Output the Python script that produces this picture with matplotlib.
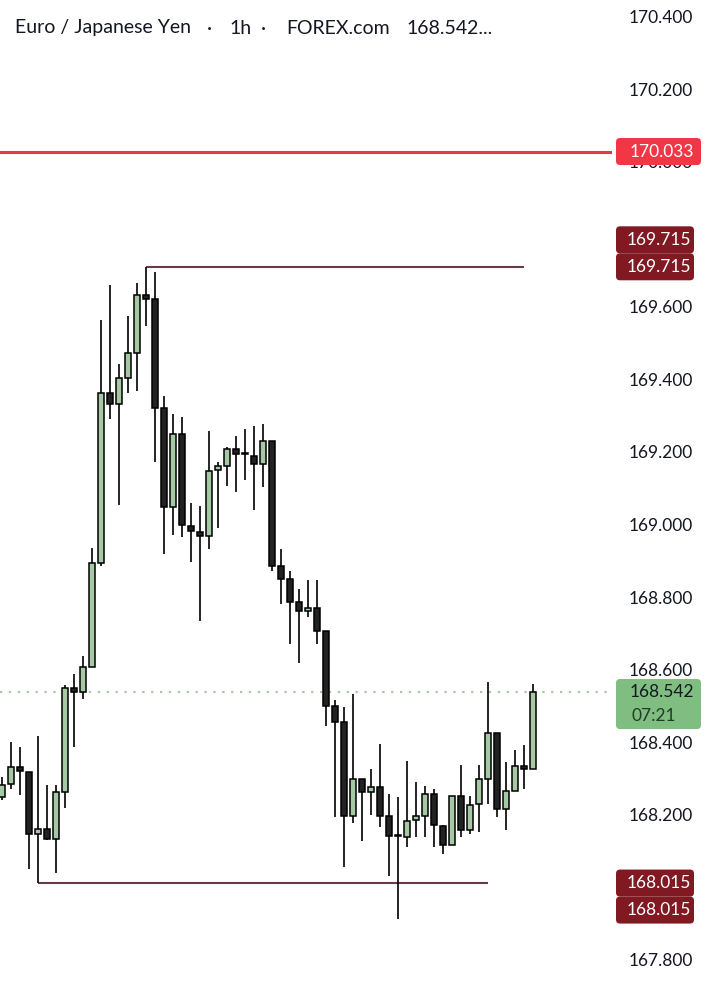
import matplotlib
matplotlib.use("Agg")
import matplotlib.pyplot as plt
from matplotlib.patches import FancyBboxPatch
import numpy as np

plt.rcParams["font.family"] = ["Lato", "DejaVu Sans"]

# hourly EUR/JPY candles
opens = [168.252, 168.288, 168.336, 168.322, 168.150, 168.163, 168.137, 168.265, 168.554, 168.543,
         168.612, 168.898, 169.366, 169.337, 169.407, 169.476, 169.637, 169.625, 169.325, 169.052,
         169.253, 169.001, 168.984, 168.972, 169.154, 169.166, 169.212, 169.199, 169.194, 169.170,
         169.235, 168.890, 168.853, 168.790, 168.766, 168.775, 168.711, 168.503, 168.458, 168.200,
         168.303, 168.265, 168.281, 168.200, 168.145, 168.143, 168.189, 168.201, 168.261, 168.173,
         168.120, 168.256, 168.161, 168.232, 168.301, 168.430, 168.219, 168.270, 168.339, 168.330]
highs = [168.308, 168.404, 168.390, 168.322, 168.421, 168.286, 168.286, 168.561, 168.592, 168.641,
         168.938, 169.568, 169.665, 169.447, 169.579, 169.670, 169.715, 169.702, 169.359, 169.309,
         169.300, 169.063, 169.056, 169.262, 169.177, 169.219, 169.248, 169.268, 169.276, 169.281,
         169.235, 168.937, 168.876, 168.826, 168.851, 168.851, 168.711, 168.520, 168.502, 168.537,
         168.303, 168.329, 168.399, 168.261, 168.252, 168.352, 168.293, 168.284, 168.274, 168.175,
         168.256, 168.341, 168.255, 168.341, 168.569, 168.430, 168.348, 168.382, 168.396, 168.564]
lows = [168.244, 168.274, 168.258, 168.053, 168.015, 168.134, 168.043, 168.222, 168.391, 168.522,
        168.612, 168.890, 169.294, 169.058, 169.366, 169.373, 169.553, 169.177, 168.923, 168.975,
        168.970, 168.902, 168.739, 168.936, 168.995, 169.110, 169.095, 169.127, 169.044, 169.108,
        168.877, 168.785, 168.674, 168.623, 168.750, 168.674, 168.449, 168.198, 168.060, 168.182,
        168.132, 168.203, 168.169, 168.035, 167.915, 168.114, 168.143, 168.143, 168.114, 168.094,
        168.120, 168.143, 168.150, 168.157, 168.233, 168.198, 168.161, 168.269, 168.274, 168.330]
closes = [168.286, 168.336, 168.325, 168.150, 168.163, 168.137, 168.265, 168.554, 168.543, 168.612,
          168.898, 169.366, 169.337, 169.407, 169.476, 169.637, 169.625, 169.325, 169.052, 169.253,
          169.003, 168.986, 168.972, 169.153, 169.166, 169.212, 169.199, 169.201, 169.170, 169.235,
          168.890, 168.853, 168.790, 168.766, 168.775, 168.711, 168.503, 168.458, 168.200, 168.303,
          168.265, 168.281, 168.200, 168.145, 168.146, 168.187, 168.201, 168.261, 168.175, 168.120,
          168.256, 168.161, 168.230, 168.301, 168.430, 168.219, 168.270, 168.339, 168.330, 168.542]

# 168.000 and 169.800 sit fully under the price tags, so they are left out
tick_values = [167.8, 168.2, 168.4, 168.6, 168.8, 169.0, 169.2, 169.4, 169.6, 170.0, 170.2, 170.4]
last_price = 168.542
countdown = "07:21"
alert_price = 170.033
swing_high, swing_high_span = 169.715, (16, 58)
swing_low, swing_low_span = 168.015, (4, 54)
title_parts = ["Euro / Japanese Yen", "\u00b7", "1h", "\u00b7", "FOREX.com", "168.542..."]
title_x = [15, 207, 229, 261, 286, 406]

UP = "#a5c8a5"
DOWN = "#222222"
W, H = 716, 999

fig = plt.figure(figsize=(W / 100, H / 100), dpi=100)
ax = fig.add_axes([0, 0, 612 / W, 1])
ax.set_axis_off()
ax.set_xlim(-0.19, 67.8)
ax.set_ylim(167.6952, 170.451)

o = np.array(opens)
h = np.array(highs)
l = np.array(lows)
c = np.array(closes)
x = np.arange(len(o))
up = c >= o

ax.vlines(x, l, h, color="black", lw=1.2, zorder=2)
bottom = np.minimum(o, c)
height = np.maximum(np.abs(c - o), 0.002)
ax.bar(x, height, bottom=bottom, width=0.7,
       color=np.where(up, UP, DOWN), edgecolor="black", linewidth=1.1, zorder=3)

ax.axhline(last_price, color=UP, lw=1.6, ls=(0, (1, 3)), zorder=1)
ax.axhline(alert_price, color="#e03a4a", lw=2.2, zorder=4)
ax.hlines([swing_high, swing_low], [swing_high_span[0], swing_low_span[0]],
          [swing_high_span[1], swing_low_span[1]], color="#6d3a43", lw=1.5, zorder=1)

# overlay in pixel units for the price scale
ov = fig.add_axes([0, 0, 1, 1])
ov.set_axis_off()
ov.set_xlim(0, W)
ov.set_ylim(0, H)


def ypix(p):
    return ax.transData.transform((0, p))[1]


for v in tick_values:
    ov.text(661, ypix(v), f"{v:.3f}", ha="center", va="center",
            fontsize=12.5, color="#131722", zorder=1)


def tag(yc, text, face, fg, x0=616, w=85, hgt=27, tx=660):
    ov.add_patch(FancyBboxPatch((x0, yc - hgt / 2), w, hgt,
                                boxstyle="round,pad=0,rounding_size=4",
                                fc=face, ec="none", zorder=3))
    ov.text(tx, yc, text, ha="center", va="center", fontsize=12.5, color=fg, zorder=4)


tag(ypix(alert_price), f"{alert_price:.3f}", "#f23645", "white", tx=662)
tag(ypix(swing_high), f"{swing_high:.3f}", "#801922", "white", w=78, tx=659)
tag(ypix(swing_high) + 27, f"{swing_high:.3f}", "#801922", "white", w=78, tx=659)
tag(ypix(swing_low), f"{swing_low:.3f}", "#801922", "white", w=78, tx=659)
tag(ypix(swing_low) - 27, f"{swing_low:.3f}", "#801922", "white", w=78, tx=659)

yl = ypix(last_price)
ov.add_patch(FancyBboxPatch((616, yl - 37), 85, 50,
                            boxstyle="round,pad=0,rounding_size=4",
                            fc="#80bd80", ec="none", zorder=3))
ov.text(662, yl, f"{last_price:.3f}", ha="center", va="center",
        fontsize=12.5, color="#131722", zorder=4)
ov.text(632, yl - 24, countdown, ha="left", va="center",
        fontsize=12.5, color="#1f3d25", zorder=4)

for tx, part in zip(title_x, title_parts):
    ov.text(tx, H - 28, part, ha="left", va="center", fontsize=14, color="#131722")

fig.savefig("out.png", dpi=100)
